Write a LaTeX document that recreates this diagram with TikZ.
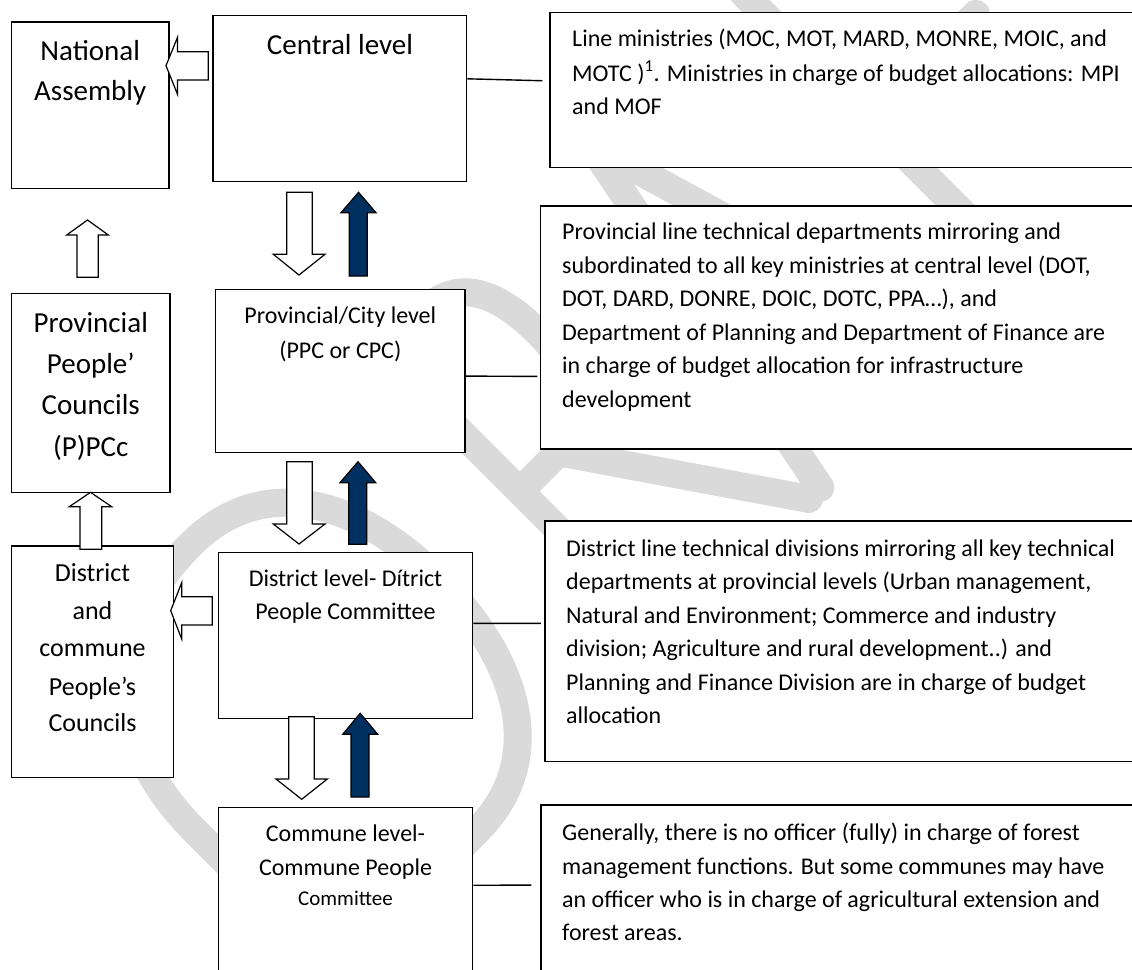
\documentclass[tikz,border=0pt]{standalone}
\usepackage{fontspec}
\setmainfont{Carlito}
\usetikzlibrary{calc}
\definecolor{navy}{RGB}{0,48,96}
\definecolor{wmark}{RGB}{218,218,218}
\begin{document}
\begin{tikzpicture}[x=1pt,y=-1pt,
  box/.style={draw=black,line width=1.5pt,fill=white,inner sep=0pt,rectangle},
  wtarrow/.style={draw=black,line width=1.2pt,fill=white,line join=miter},
  bluearrow/.style={draw=black,line width=1.2pt,fill=navy,line join=miter},
  conn/.style={draw=black,line width=1.4pt},
  wmk/.style={draw=wmark,line width=28pt,line cap=round,line join=round},
  big/.style={inner sep=0pt,font=\fontsize{29}{35}\selectfont},
  mid/.style={inner sep=0pt,font=\fontsize{26}{31}\selectfont},
  txt/.style={inner sep=0pt,font=\fontsize{24}{29}\selectfont},
  small/.style={inner sep=0pt,font=\fontsize{21}{25}\selectfont}]
\useasboundingbox (0,0) rectangle (1132,969);
\clip (0,0) rectangle (1132,969);
\fill[white] (0,0) rectangle (1132,969);

% watermark (DRAFT, diagonal)
\begin{scope}[shift={(336,972)},x={(0.7071pt,0.7071pt)},y={(-0.7071pt,0.7071pt)}]
  \draw[wmk] (0,0) -- (0,200) .. controls (0,320) and (70,405) .. (200,405) .. controls (300,405) and (350,320) .. (350,205) .. controls (350,90) and (300,0) .. (200,0) -- cycle;
  \draw[wmk] (470,0) -- (470,405) -- (530,405) .. controls (575,405) and (595,370) .. (595,310) .. controls (595,245) and (570,210) .. (525,210) -- (470,210);
  \draw[wmk] (525,210) -- (669,0);
  \draw[wmk] (685,0) -- (765,405) -- (885,0);
  \draw[wmk] (713,140) -- (843,140);
  \draw[wmk] (980,0) -- (980,405) -- (1160,405);
  \draw[wmk] (980,225) -- (1130,225);
  \draw[wmk] (1210,405) -- (1440,405);
  \draw[wmk] (1325,0) -- (1325,405);
\end{scope}

% boxes
\node[box,minimum width=157.5pt,minimum height=166.3pt] (na) at (90.25,105.15) {};
\node[box,minimum width=253.7pt,minimum height=166.2pt] (central) at (339.85,98.6) {};
\node[box,minimum width=595pt,minimum height=154.8pt] (linebox) at (847.5,89.9) {};
\node[box,minimum width=158.3pt,minimum height=199pt] (ppc) at (90.85,392.8) {};
\node[box,minimum width=249.3pt,minimum height=163.4pt] (prov) at (340.35,371) {};
\node[box,minimum width=604.3pt,minimum height=243pt] (provline) at (842.85,327.5) {};
\node[box,minimum width=161.6pt,minimum height=231.3pt] (dc) at (92.5,661.65) {};
\node[box,minimum width=254.4pt,minimum height=165.8pt] (dist) at (345.5,635.4) {};
\node[box,minimum width=600pt,minimum height=240.7pt] (distline) at (845,641.35) {};
\node[box,minimum width=254.4pt,minimum height=182.3pt] (comm) at (345.5,898.85) {};
\node[box,minimum width=604pt,minimum height=185pt] (gen) at (843,897.5) {};

% texts: left column
\node[big,anchor=base] (na1) at (90.2,60) {National};
\node[big,anchor=base] (na2) at (90.2,100.5) {Assembly};
\node[big,anchor=base] (ppc1) at (90.8,332) {Provincial};
\node[big,anchor=base] (ppc2) at (90.8,373) {People’};
\node[big,anchor=base] (ppc3) at (90.8,414) {Councils};
\node[big,anchor=base] (ppc4) at (90.8,456) {(P)PCc};
\node[mid,anchor=base] (dc1) at (92.5,581.7) {District};
\node[mid,anchor=base] (dc2) at (92.5,619.3) {and};
\node[mid,anchor=base] (dc3) at (92.5,656.7) {commune};
\node[mid,anchor=base] (dc4) at (92.5,695) {People’s};
\node[mid,anchor=base] (dc5) at (92.5,731.7) {Councils};

% texts: middle column
\node[big,anchor=base] (ce1) at (340,54.5) {Central level};
\node[txt,anchor=base] (pr1) at (340.3,323) {Provincial/City level};
\node[txt,anchor=base] (pr2) at (340.3,358) {(PPC or CPC)};
\node[txt,anchor=base] (di1) at (345.5,586) {District level- Dítrict};
\node[txt,anchor=base] (di2) at (345.5,619) {People Committee};
\node[txt,anchor=base] (co1) at (345.5,841.7) {Commune level-};
\node[txt,anchor=base] (co2) at (345.5,875) {Commune People};
\node[small,anchor=base] (co3) at (345.5,905.7) {Committee};

% texts: right column
\node[txt,anchor=base west] (lb1) at (572,46.7) {Line ministries (MOC, MOT, MARD, MONRE, MOIC, and};
\node[txt,anchor=base west] (lb2) at (572,81) {MOTC )\textsuperscript{1}. Ministries in charge of budget allocations: MPI};
\node[txt,anchor=base west] (lb3) at (572,114.3) {and MOF};

\node[txt,anchor=base west] (pl1) at (562,239.3) {Provincial line technical departments mirroring and};
\node[txt,anchor=base west] (pl2) at (562,273) {subordinated to all key ministries at central level (DOT,};
\node[txt,anchor=base west] (pl3) at (562,306.6) {DOT, DARD, DONRE, DOIC, DOTC, PPA…), and};
\node[txt,anchor=base west] (pl4) at (562,340.2) {Department of Planning and Department of Finance are};
\node[txt,anchor=base west] (pl5) at (562,373.8) {in charge of budget allocation for infrastructure};
\node[txt,anchor=base west] (pl6) at (562,407.4) {development};

\node[txt,anchor=base west] (dl1) at (566,556) {District line technical divisions mirroring all key technical};
\node[txt,anchor=base west] (dl2) at (566,589.5) {departments at provincial levels (Urban management,};
\node[txt,anchor=base west] (dl3) at (566,623) {Natural and Environment; Commerce and industry};
\node[txt,anchor=base west] (dl4) at (566,656.5) {division; Agriculture and rural development..) and};
\node[txt,anchor=base west] (dl5) at (566,690) {Planning and Finance Division are in charge of budget};
\node[txt,anchor=base west] (dl6) at (566,723.5) {allocation};

\node[txt,anchor=base west] (ge1) at (562,840.7) {Generally, there is no officer (fully) in charge of forest};
\node[txt,anchor=base west] (ge2) at (562,874.1) {management functions. But some communes may have};
\node[txt,anchor=base west] (ge3) at (562,907.5) {an officer who is in charge of agricultural extension and};
\node[txt,anchor=base west] (ge4) at (562,940.9) {forest areas.};

% block arrows
\draw[wtarrow] (208.2,51.7) -- (177.5,51.7) -- (177.5,37.3) -- (166,65.7) -- (177.5,94.3) -- (177.5,80) -- (208.2,80) -- cycle;
\draw[wtarrow] (212.3,596.7) -- (181.7,596.7) -- (181.7,582.7) -- (170.7,610.7) -- (181.7,639) -- (181.7,625) -- (212.3,625) -- cycle;
\draw[wtarrow] (77,277.3) -- (77,235) -- (66.7,235) -- (87.5,220) -- (108.3,235) -- (98.3,235) -- (98.3,277.3) -- cycle;
\draw[wtarrow] (80,549.3) -- (80,506.7) -- (69.3,506.7) -- (90.5,492.3) -- (111.7,506.7) -- (101.7,506.7) -- (101.7,549.3) -- cycle;
\draw[wtarrow] (286.7,192.3) -- (312.3,192.3) -- (312.3,254.3) -- (325,254.3) -- (299,275) -- (273.3,254.3) -- (286.7,254.3) -- cycle;
\draw[wtarrow] (286.7,461.7) -- (312.3,461.7) -- (312.3,524) -- (325,524) -- (299,544) -- (273.3,524) -- (286.7,524) -- cycle;
\draw[wtarrow] (288.7,716.7) -- (314.3,716.7) -- (314.3,779) -- (327.3,779) -- (301.7,799.3) -- (276,779) -- (288.7,779) -- cycle;
\draw[bluearrow] (349.3,276) -- (349.3,212.7) -- (341,212.7) -- (358.5,192.3) -- (376,212.7) -- (367.3,212.7) -- (367.3,276) -- cycle;
\draw[bluearrow] (348.7,544.3) -- (348.7,482.7) -- (340,482.7) -- (358,461.7) -- (375.7,482.7) -- (366.7,482.7) -- (366.7,544.3) -- cycle;
\draw[bluearrow] (351,797) -- (351,734.3) -- (342.7,734.3) -- (360.2,713.3) -- (377.7,734.3) -- (369,734.3) -- (369,797) -- cycle;

% connectors
\draw[conn,shorten >=7pt] ($(central.north east)!0.382!(central.south east)$) -- ($(linebox.north west)!0.4425!(linebox.south west)$);
\draw[conn,shorten >=2.7pt] ($(prov.north east)!0.531!(prov.south east)$) -- ($(provline.north west)!0.70!(provline.south west)$);
\draw[conn,shorten >=3.3pt] ($(dist.north east)!0.428!(dist.south east)$) -- ($(distline.north west)!0.426!(distline.south west)$);
\draw[conn,shorten >=9pt] ($(comm.north east)!0.426!(comm.south east)$) -- ($(gen.north west)!0.4335!(gen.south west)$);
\end{tikzpicture}
\end{document}
